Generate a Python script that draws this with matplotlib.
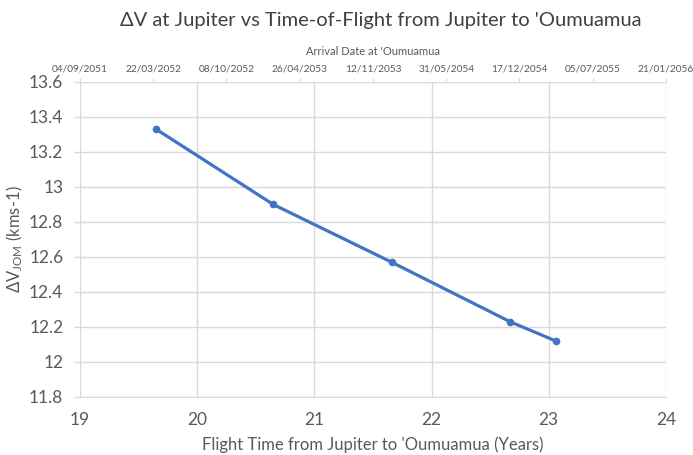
import matplotlib
matplotlib.use("Agg")
import matplotlib.pyplot as plt
import matplotlib.dates as mdates
import datetime as dt

flight_years = [19.65, 20.65, 21.66, 22.67, 23.06]
delta_v = [13.33, 12.90, 12.57, 12.23, 12.12]
x_ticks = [19, 20, 21, 22, 23, 24]
y_ticks = [11.8, 12.0, 12.2, 12.4, 12.6, 12.8, 13.0, 13.2, 13.4, 13.6]
y_tick_labels = ["11.8", "12", "12.2", "12.4", "12.6", "12.8", "13", "13.2", "13.4", "13.6"]
top_dates = ["04/09/2051", "22/03/2052", "08/10/2052", "26/04/2053", "12/11/2053",
             "31/05/2054", "17/12/2054", "05/07/2055", "21/01/2056"]

plt.rcParams['font.family'] = ['Lato', 'DejaVu Sans']
plt.rcParams['mathtext.fontset'] = 'custom'
plt.rcParams['mathtext.rm'] = 'Lato'
plt.rcParams['mathtext.it'] = 'Lato'

TXT = '#595959'
GRID = '#D9D9D9'
BLUE = '#4472C4'

fig = plt.figure(figsize=(6.93, 4.55), dpi=100)
ax = fig.add_axes([0.1154, 0.1275, 0.961 - 0.1154, 0.8198 - 0.1275])

ax.plot(flight_years, delta_v, color=BLUE, lw=2.3, marker='o', ms=4.5, zorder=3)

ax.set_xlim(19, 24)
ax.set_ylim(11.8, 13.6)
ax.set_xticks(x_ticks)
ax.set_yticks(y_ticks)
ax.set_yticklabels(y_tick_labels)
ax.grid(True, color=GRID, lw=1)
ax.set_axisbelow(True)
for s in ['top', 'right', 'left']:
    ax.spines[s].set_visible(False)
ax.spines['bottom'].set_color(GRID)
ax.tick_params(axis='y', colors=GRID, labelcolor=TXT, labelsize=12.5, length=4, width=1, pad=8)
ax.tick_params(axis='x', colors=GRID, labelcolor=TXT, labelsize=12.5, length=0, pad=11)

ax.set_xlabel("Flight Time from Jupiter to 'Oumuamua (Years)", color=TXT, fontsize=12, labelpad=6)
ax.set_ylabel(r"ΔV$_{\mathrm{JOM}}$ (kms-1)", color=TXT, fontsize=12, labelpad=3)

# Secondary (top) date axis
ax2 = ax.twiny()
dates = [dt.datetime.strptime(d, "%d/%m/%Y") for d in top_dates]
nums = mdates.date2num(dates)
ax2.set_xlim(nums[0], nums[-1])
ax2.set_xticks(nums)
ax2.set_xticklabels(top_dates)
for s in ['top', 'right', 'left', 'bottom']:
    ax2.spines[s].set_visible(False)
ax2.tick_params(axis='x', colors=GRID, labelcolor=TXT, labelsize=7.3, length=3, pad=3, direction='out')
ax2.set_xlabel("Arrival Date at 'Oumuamua", color=TXT, fontsize=8, labelpad=7)

fig.text(0.55, 0.955, "ΔV at Jupiter vs Time-of-Flight from Jupiter to 'Oumuamua",
         ha='center', va='center', fontsize=14.5, color='#404040')

fig.savefig("out.png", dpi=100)
